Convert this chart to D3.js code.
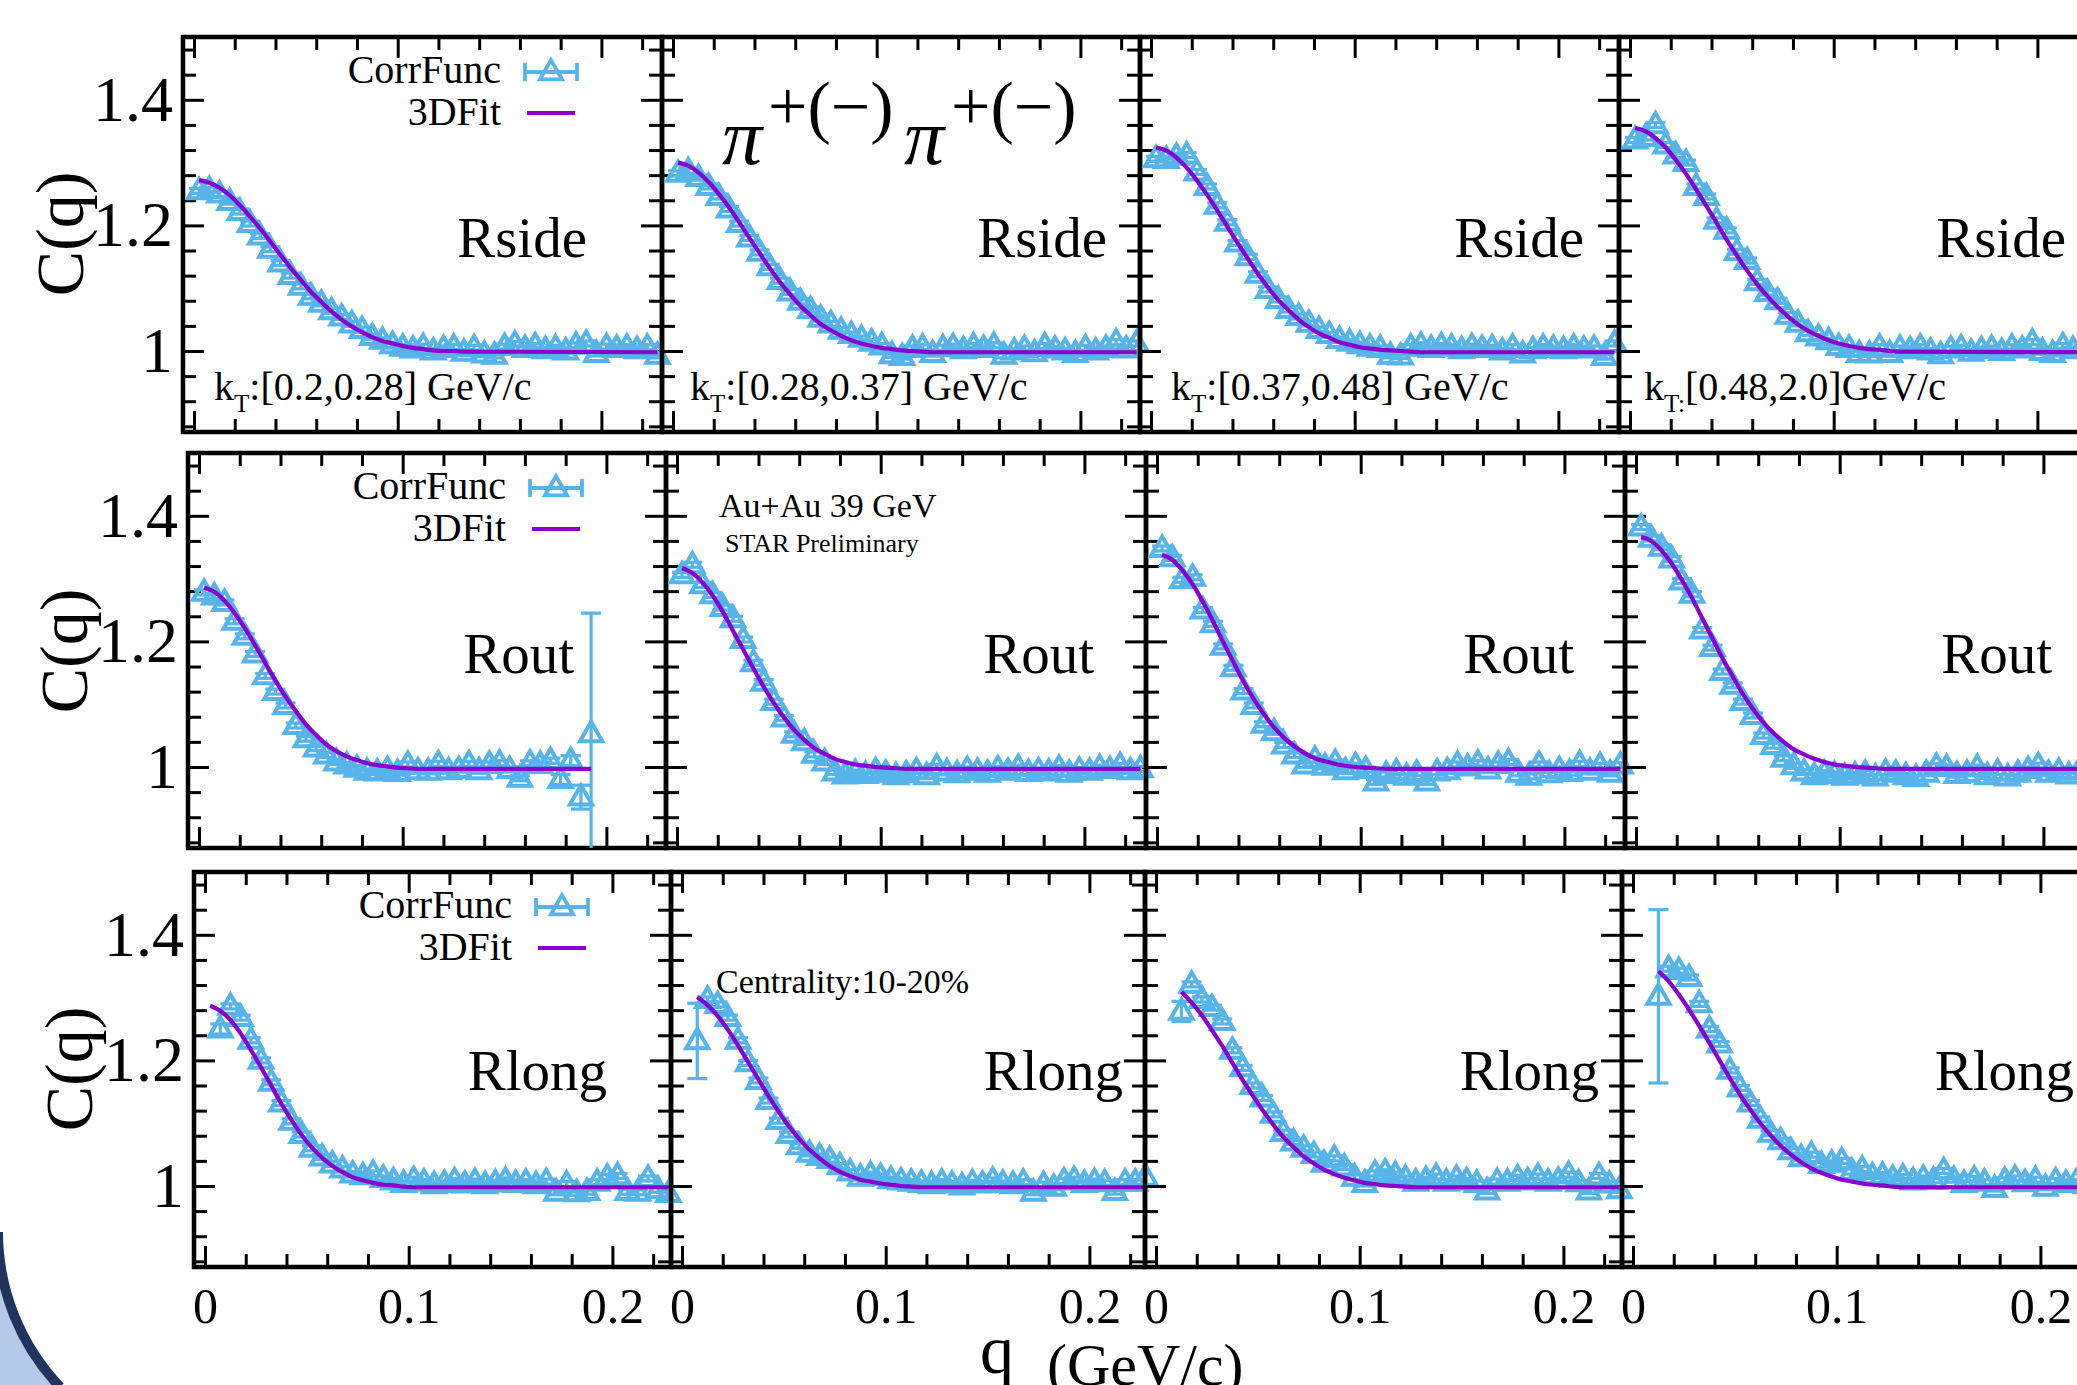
<!DOCTYPE html>
<html>
<head>
<meta charset="utf-8">
<script src="https://cdn.jsdelivr.net/npm/d3@7"></script>
<style>
  body { margin: 0; background: #fff; }
  svg { display: block; font-family: "Liberation Serif", "Times New Roman", serif; }
</style>
</head>
<body>
<div id="chart"></div>
<script>
"use strict"

// ---- data ----
const qBins = [0.0025, 0.0075, 0.0125, 0.0175, 0.0225, 0.0275, 0.0325, 0.0375, 0.0425, 0.0475,
    0.0525, 0.0575, 0.0625, 0.0675, 0.0725, 0.0775, 0.0825, 0.0875, 0.0925, 0.0975,
    0.1025, 0.1075, 0.1125, 0.1175, 0.1225, 0.1275, 0.1325, 0.1375, 0.1425, 0.1475,
    0.1525, 0.1575, 0.1625, 0.1675, 0.1725, 0.1775, 0.1825, 0.1875, 0.1925, 0.1975,
    0.2025, 0.2075, 0.2125, 0.2175, 0.2225, 0.2275];

const fitQ = [0.0025, 0.0075, 0.0125, 0.0175, 0.0225, 0.0275, 0.0325, 0.0375, 0.0425, 0.0475,
    0.0525, 0.0575, 0.0625, 0.0675, 0.0725, 0.0775, 0.0825, 0.0875, 0.0925, 0.0975,
    0.1025, 0.1075, 0.1125, 0.1175, 0.1225, 0.1275, 0.1325, 0.2275];

const components = ["Rside", "Rout", "Rlong"];
const ktLabels = [["k", "T", ":[0.2,0.28] GeV/c"], ["k", "T", ":[0.28,0.37] GeV/c"],
    ["k", "T", ":[0.37,0.48] GeV/c"], ["k", "T:", "[0.48,2.0]GeV/c"]];

const yMajor = [1, 1.2, 1.4];
const yMinor = [0.88, 0.92, 0.96, 1.04, 1.08, 1.12, 1.16, 1.24, 1.28, 1.32, 1.36, 1.44, 1.48];
const xMajor = [0, 0.1, 0.2];
const xMinor = [0.02, 0.04, 0.06, 0.08, 0.12, 0.14, 0.16, 0.18, 0.22];

// Rside
const sideKt1 = [1.255,1.257,1.250,1.238,1.222,1.203,1.183,1.162,1.140,1.120,1.103,1.087,1.076,1.064,1.054,1.043,1.034,1.023,1.017,1.010,1.006,1.003,1.007,1.000,1.004,1.006,0.998,1.005,0.995,0.993,1.007,1.011,1.004,1.008,1.002,1.005,1.000,1.009,1.012,0.996,1.007,1.004,1.006,1.002,1.006,0.993];
const sideKt2 = [1.283,1.287,1.276,1.262,1.246,1.226,1.203,1.180,1.157,1.134,1.112,1.094,1.079,1.066,1.052,1.043,1.033,1.026,1.020,1.014,1.008,0.994,0.991,1.004,1.006,0.996,1.005,1.007,1.002,1.008,1.004,1.009,0.993,1.000,1.004,0.997,1.008,1.003,1.000,0.996,1.005,1.000,1.004,1.014,1.003,1.012];
const sideKt3 = [1.306,1.305,1.310,1.312,1.285,1.262,1.232,1.205,1.172,1.150,1.122,1.098,1.082,1.066,1.055,1.044,1.034,1.026,1.018,1.014,1.010,1.006,1.004,0.993,0.992,1.006,1.009,1.004,1.008,1.006,1.002,1.007,1.004,1.005,1.000,1.006,0.995,1.002,1.006,1.004,1.002,1.006,1.003,1.004,0.991,1.012];
const sideKt4 = [1.336,1.340,1.360,1.328,1.312,1.300,1.262,1.246,1.208,1.192,1.158,1.144,1.110,1.093,1.080,1.057,1.044,1.029,1.022,1.016,1.007,1.004,0.996,0.995,1.006,0.996,1.004,1.002,1.006,1.000,0.994,1.003,1.005,0.998,1.002,1.004,0.999,1.006,1.003,1.014,0.999,0.996,1.008,1.002,1.010,1.004];
// Rout
const outKt1 = [1.278,1.272,1.262,1.232,1.208,1.180,1.145,1.120,1.098,1.066,1.045,1.030,1.019,1.008,1.003,0.998,0.993,0.992,0.996,0.991,1.004,0.994,0.993,1.005,0.994,0.996,1.005,0.994,1.004,1.006,0.996,0.982,1.006,1.004,1.010,0.980,1.010,0.952,1.053];
const outKt2 = [1.306,1.322,1.290,1.274,1.254,1.236,1.203,1.166,1.135,1.104,1.078,1.052,1.040,1.020,1.008,0.992,0.987,0.991,0.988,0.994,0.990,0.986,0.989,0.994,0.986,1.000,0.992,0.989,0.996,0.993,0.990,0.997,0.993,0.999,0.991,0.994,0.992,0.998,0.990,0.995,0.993,0.999,0.996,1.002,0.994,0.997];
const outKt3 = [1.348,1.333,1.298,1.302,1.250,1.228,1.192,1.158,1.121,1.098,1.068,1.056,1.035,1.019,1.003,1.012,1.001,1.007,0.994,1.002,0.996,0.976,0.988,0.992,0.985,0.990,0.976,0.992,0.994,1.004,1.000,1.006,0.995,1.004,1.008,0.990,0.985,1.004,0.989,0.996,0.991,1.005,0.993,1.002,0.990,1.003];
const outKt4 = [1.382,1.364,1.350,1.331,1.296,1.275,1.218,1.190,1.152,1.130,1.104,1.082,1.050,1.034,1.014,1.002,0.992,0.986,0.990,0.988,0.985,0.987,0.990,0.984,0.992,0.990,0.986,0.983,0.990,1.001,0.999,0.988,0.990,0.999,0.986,0.992,0.984,0.990,0.996,1.002,0.990,0.993,0.987,0.994,0.991,0.995];
// Rlong
const longKt1 = [null,1.250,1.286,1.268,1.232,1.200,1.165,1.132,1.103,1.082,1.060,1.046,1.035,1.027,1.019,1.016,1.020,1.012,1.008,1.004,1.010,1.006,1.002,1.004,1.008,1.003,1.007,1.002,1.005,1.009,1.004,1.006,1.002,1.007,0.990,1.003,0.989,0.991,1.006,1.014,1.016,0.991,0.990,1.012,0.994,0.988];
const longKt2 = [null,1.231,1.297,1.289,1.268,1.232,1.196,1.168,1.136,1.104,1.082,1.064,1.052,1.047,1.042,1.032,1.022,1.014,1.018,1.015,1.010,1.008,1.006,1.004,1.002,1.006,1.003,1.000,1.005,1.003,1.009,1.004,1.002,1.006,0.990,1.002,0.998,1.008,1.010,1.004,1.007,1.005,0.991,1.006,1.006,1.014];
const longKt3 = [null,null,1.278,1.321,1.297,1.284,1.262,1.216,1.188,1.160,1.140,1.114,1.085,1.070,1.060,1.050,1.036,1.044,1.030,1.014,1.004,1.020,1.022,1.018,1.012,1.006,1.010,1.015,1.006,1.012,1.008,1.004,0.992,1.007,1.006,1.013,1.008,1.015,1.006,1.009,1.018,1.005,0.992,1.016,1.003,0.994];
const longKt4 = [null,null,1.302,1.346,1.343,1.332,1.290,1.250,1.226,1.184,1.156,1.132,1.106,1.084,1.072,1.056,1.045,1.050,1.034,1.036,1.040,1.023,1.027,1.016,1.017,1.012,1.014,1.008,1.012,1.009,1.024,1.010,1.004,1.011,1.006,0.996,1.009,1.012,1.005,1.010,0.998,1.008,1.004,1.006,1.002,1.004];

// 3D fit curves, sampled at fitQ
const sideFit1 = [1.272,1.268,1.260,1.248,1.232,1.214,1.195,1.174,1.153,1.132,1.113,1.094,1.078,1.063,1.050,1.039,1.030,1.022,1.016,1.012,1.008,1.005,1.003,1.001,1.000,1.000,0.999,0.998];
const sideFit2 = [1.300,1.295,1.284,1.269,1.250,1.229,1.205,1.180,1.156,1.132,1.110,1.090,1.072,1.057,1.043,1.033,1.024,1.017,1.012,1.008,1.005,1.003,1.001,1.000,0.999,0.998,0.998,0.998];
const sideFit3 = [1.324,1.319,1.308,1.292,1.272,1.249,1.224,1.198,1.172,1.147,1.123,1.101,1.081,1.065,1.050,1.038,1.028,1.021,1.014,1.010,1.006,1.004,1.002,1.001,1.000,0.999,0.998,0.998];
const sideFit4 = [1.355,1.350,1.339,1.324,1.304,1.282,1.257,1.231,1.204,1.177,1.152,1.128,1.106,1.087,1.070,1.055,1.042,1.032,1.024,1.017,1.012,1.008,1.005,1.003,1.002,1.000,0.999,0.998];
const outFit1 = [1.286,1.279,1.265,1.245,1.221,1.194,1.166,1.138,1.112,1.089,1.068,1.051,1.036,1.025,1.017,1.011,1.006,1.003,1.001,0.999,0.998,0.997,0.997,0.997,0.997,0.997,0.997,0.997];
const outFit2 = [1.317,1.309,1.294,1.273,1.247,1.217,1.187,1.157,1.128,1.102,1.079,1.059,1.043,1.030,1.021,1.013,1.008,1.004,1.002,1.000,0.999,0.998,0.997,0.997,0.997,0.997,0.997,0.997];
const outFit3 = [1.338,1.330,1.313,1.291,1.263,1.232,1.199,1.167,1.136,1.108,1.084,1.063,1.046,1.033,1.022,1.014,1.009,1.005,1.002,1.000,0.999,0.998,0.997,0.997,0.997,0.997,0.997,0.997];
const outFit4 = [1.366,1.360,1.345,1.324,1.298,1.269,1.237,1.205,1.173,1.144,1.116,1.092,1.071,1.054,1.040,1.028,1.020,1.013,1.008,1.004,1.002,1.000,0.999,0.998,0.997,0.997,0.997,0.997];
const longFit1 = [1.287,1.279,1.264,1.243,1.217,1.189,1.160,1.131,1.105,1.081,1.061,1.045,1.032,1.022,1.014,1.009,1.005,1.002,1.001,0.999,0.998,0.998,0.998,0.998,0.998,0.998,0.998,0.998];
const longFit2 = [null,1.301,1.288,1.271,1.249,1.224,1.197,1.170,1.143,1.118,1.095,1.075,1.058,1.044,1.032,1.023,1.016,1.010,1.007,1.004,1.002,1.000,0.999,0.998,0.998,0.998,0.998,0.998];
const longFit3 = [null,null,1.309,1.292,1.272,1.248,1.223,1.196,1.169,1.144,1.120,1.098,1.078,1.062,1.047,1.036,1.026,1.019,1.013,1.009,1.005,1.003,1.001,1.000,0.999,0.998,0.998,0.998];
const longFit4 = [null,null,1.342,1.326,1.305,1.281,1.255,1.228,1.200,1.172,1.146,1.122,1.100,1.081,1.064,1.050,1.038,1.028,1.021,1.015,1.010,1.007,1.004,1.002,1.001,0.999,0.998,0.998];

// points whose error bar is visible: [bin index, error]
const outKt1Err = [[35, 0.008], [36, 0.008], [37, 0.019], [38, 0.192]];
const longKt1Err = [[1, 0.008]];
const longKt2Err = [[1, 0.06]];
const longKt3Err = [[2, 0.016]];
const longKt4Err = [[2, 0.138]];
const defaultErr = 0.004;

const corr = [[sideKt1, sideKt2, sideKt3, sideKt4], [outKt1, outKt2, outKt3, outKt4], [longKt1, longKt2, longKt3, longKt4]];
const fits = [[sideFit1, sideFit2, sideFit3, sideFit4], [outFit1, outFit2, outFit3, outFit4], [longFit1, longFit2, longFit3, longFit4]];
const errs = [[[], [], [], []], [outKt1Err, [], [], []], [longKt1Err, longKt2Err, longKt3Err, longKt4Err]];

// ---- layout ----
const width = 2077, height = 1385;
const rowTop = [37, 453, 872];
const panelH = 395;
const panelLeft = [[183, 662, 1140, 1619], [188, 666, 1146, 1625], [194, 671, 1145, 1622]];
const lastW = 479;
const pxPerGeV = 2037;
const zeroOffset = 11;
const yDomain = [0.871, 1.5];
const labelRight = [[404, 445, 444, 447], [386, 428, 428, 427], [413, 452, 454, 452]];
const labelBase = [220, 220, 218];
const ktX = [31, 28, 31, 25];

const blue = "#56b4e9", purple = "#8a00d0";
const markSize = 215;

const svg = d3.select("#chart").append("svg")
    .attr("width", width)
    .attr("height", height)
    .attr("font-family", "Liberation Serif, Times New Roman, serif");

svg.append("rect").attr("width", width).attr("height", height).attr("fill", "#fff");

// decoration at bottom-left corner of the slide
svg.append("path")
    .attr("d", "M0,1232 A225,225 0 0 0 60,1385 L0,1385 Z")
    .attr("fill", "#b7c9e9");
svg.append("path")
    .attr("d", "M-2,1232 A225,225 0 0 0 60,1387")
    .attr("fill", "none")
    .attr("stroke", "#1f355f")
    .attr("stroke-width", 10);

function styleAxis(g) {
    g.attr("font-size", null).attr("font-family", null);
    g.select(".domain").remove();
    g.selectAll("line").attr("stroke", "#000").attr("stroke-width", 3);
    g.selectAll("text").attr("fill", "#000");
}

function drawPanel(r, c) {
    const left = panelLeft[r][c];
    const w = c < 3 ? panelLeft[r][c + 1] - left : lastW;
    const top = rowTop[r];
    const bottom = top + panelH;

    const x = d3.scaleLinear()
        .domain([-zeroOffset / pxPerGeV, (w - zeroOffset) / pxPerGeV])
        .range([left, left + w]);
    const y = d3.scaleLinear()
        .domain(yDomain)
        .range([bottom, top]);

    const g = svg.append("g").attr("class", "panel");

    const clipId = "clip-" + r + "-" + c;
    g.append("clipPath").attr("id", clipId)
        .append("rect")
        .attr("x", left).attr("y", top)
        .attr("width", w).attr("height", panelH);

    // ticks on all four sides, pointing inward
    const yFmt = d => d === 1 ? "1" : d3.format(".1f")(d);
    const xFmt = d => d === 0 ? "0" : d3.format(".1f")(d);

    g.append("g").attr("transform", "translate(" + left + ",0)")
        .call(d3.axisLeft(y).tickValues(yMinor).tickSize(-13).tickFormat(""))
        .call(styleAxis);
    g.append("g").attr("transform", "translate(" + left + ",0)")
        .call(d3.axisLeft(y).tickValues(yMajor).tickSize(-21).tickPadding(10)
            .tickFormat(c === 0 ? yFmt : ""))
        .call(styleAxis)
        .selectAll("text").attr("font-size", 64);
    g.append("g").attr("transform", "translate(" + (left + w) + ",0)")
        .call(d3.axisRight(y).tickValues(yMinor).tickSize(-13).tickFormat(""))
        .call(styleAxis);
    g.append("g").attr("transform", "translate(" + (left + w) + ",0)")
        .call(d3.axisRight(y).tickValues(yMajor).tickSize(-21).tickFormat(""))
        .call(styleAxis);

    g.append("g").attr("transform", "translate(0," + top + ")")
        .call(d3.axisTop(x).tickValues(xMinor).tickSize(-13).tickFormat(""))
        .call(styleAxis);
    g.append("g").attr("transform", "translate(0," + top + ")")
        .call(d3.axisTop(x).tickValues(xMajor).tickSize(-21).tickFormat(""))
        .call(styleAxis);
    g.append("g").attr("transform", "translate(0," + bottom + ")")
        .call(d3.axisBottom(x).tickValues(xMinor).tickSize(-13).tickFormat(""))
        .call(styleAxis);
    g.append("g").attr("transform", "translate(0," + bottom + ")")
        .call(d3.axisBottom(x).tickValues(xMajor).tickSize(-21).tickPadding(20)
            .tickFormat(r === 2 ? xFmt : ""))
        .call(styleAxis)
        .selectAll("text").attr("font-size", 50);

    g.append("rect")
        .attr("x", left).attr("y", top)
        .attr("width", w).attr("height", panelH)
        .attr("fill", "none")
        .attr("stroke", "#000")
        .attr("stroke-width", 4.5);

    // correlation function points
    const values = corr[r][c];
    const pts = [];
    values.forEach((v, i) => {
        if (v !== null) pts.push({ q: qBins[i], v: v, e: defaultErr, i: i });
    });
    errs[r][c].forEach(([i, e]) => {
        const p = pts.find(d => d.i === i);
        if (p) p.e = e;
    });

    const eb = g.append("g")
        .attr("clip-path", "url(#" + clipId + ")")
        .attr("stroke", blue)
        .attr("stroke-width", 3.2);
    eb.selectAll("line.bar").data(pts).join("line")
        .attr("class", "bar")
        .attr("x1", d => x(d.q)).attr("x2", d => x(d.q))
        .attr("y1", d => y(d.v - d.e)).attr("y2", d => y(d.v + d.e));
    eb.selectAll("line.capt").data(pts).join("line")
        .attr("class", "capt")
        .attr("x1", d => x(d.q) - 10).attr("x2", d => x(d.q) + 10)
        .attr("y1", d => y(d.v + d.e)).attr("y2", d => y(d.v + d.e));
    eb.selectAll("line.capb").data(pts).join("line")
        .attr("class", "capb")
        .attr("x1", d => x(d.q) - 10).attr("x2", d => x(d.q) + 10)
        .attr("y1", d => y(d.v - d.e)).attr("y2", d => y(d.v - d.e));

    const tri = d3.symbol().type(d3.symbolTriangle).size(markSize);
    g.append("g").selectAll("path").data(pts).join("path")
        .attr("d", tri)
        .attr("transform", d => "translate(" + x(d.q) + "," + (y(d.v) + 1) + ")")
        .attr("fill", "none")
        .attr("stroke", blue)
        .attr("stroke-width", 4);

    // fit curve
    const fv = fits[r][c];
    const qEnd = qBins[values.length - 1];
    const fitPts = [];
    fv.forEach((v, i) => {
        if (v === null) return;
        const q = i === fv.length - 1 ? qEnd : fitQ[i];
        if (q <= qEnd) fitPts.push([q, v]);
    });
    const line = d3.line()
        .x(d => x(d[0]))
        .y(d => y(d[1]))
        .curve(d3.curveMonotoneX);
    g.append("path")
        .attr("d", line(fitPts))
        .attr("fill", "none")
        .attr("stroke", purple)
        .attr("stroke-width", 4.2);

    // component label
    g.append("text")
        .attr("x", left + labelRight[r][c])
        .attr("y", top + labelBase[r])
        .attr("text-anchor", "end")
        .attr("font-size", 57)
        .text(components[r]);

    if (c === 0) drawLegend(g, left, top);

    if (r === 0) {
        const kt = ktLabels[c];
        const t = g.append("text")
            .attr("x", left + ktX[c])
            .attr("y", top + 363)
            .attr("font-size", 40);
        t.append("tspan").text(kt[0]);
        t.append("tspan").attr("font-size", 25).attr("dy", 12).text(kt[1]);
        t.append("tspan").attr("dy", -12).text(kt[2]);
    }
}

function drawLegend(g, left, top) {
    g.append("text")
        .attr("x", left + 318).attr("y", top + 46)
        .attr("text-anchor", "end").attr("font-size", 40)
        .text("CorrFunc");
    g.append("text")
        .attr("x", left + 318).attr("y", top + 88)
        .attr("text-anchor", "end").attr("font-size", 40)
        .text("3DFit");
    const cx = left + 368, cy = top + 35;
    const lg = g.append("g").attr("stroke", blue).attr("stroke-width", 3.8).attr("fill", "none");
    lg.append("line").attr("x1", cx - 26).attr("x2", cx + 26).attr("y1", cy).attr("y2", cy);
    lg.append("line").attr("x1", cx - 26).attr("x2", cx - 26).attr("y1", cy - 9).attr("y2", cy + 9);
    lg.append("line").attr("x1", cx + 26).attr("x2", cx + 26).attr("y1", cy - 9).attr("y2", cy + 9);
    lg.append("path")
        .attr("d", d3.symbol().type(d3.symbolTriangle).size(markSize)())
        .attr("transform", "translate(" + cx + "," + (cy + 1) + ")");
    g.append("line")
        .attr("x1", cx - 24).attr("x2", cx + 24)
        .attr("y1", top + 76).attr("y2", top + 76)
        .attr("stroke", purple).attr("stroke-width", 4.2);
}

for (let r = 0; r < 3; r++) {
    for (let c = 0; c < 4; c++) drawPanel(r, c);
}

// y-axis titles
const yTitle = [[83, 234], [87, 651], [92, 1069]];
yTitle.forEach(([tx, ty]) => {
    svg.append("text")
        .attr("transform", "translate(" + tx + "," + ty + ") rotate(-90)")
        .attr("text-anchor", "middle")
        .attr("font-size", 68)
        .text("C(q)");
});

// x-axis title
svg.append("text").attr("x", 980).attr("y", 1373).attr("font-size", 68).text("q");
svg.append("text").attr("x", 1047).attr("y", 1385).attr("font-size", 60).text("(GeV/c)");

// pair label
const pair = svg.append("text").attr("font-size", 70);
pair.append("tspan").attr("x", 722).attr("y", 164).attr("font-style", "italic").attr("font-size", 80).text("\u03c0");
pair.append("tspan").attr("x", 768).attr("y", 130).text("+(\u2212)");
pair.append("tspan").attr("x", 904).attr("y", 164).attr("font-style", "italic").attr("font-size", 80).text("\u03c0");
pair.append("tspan").attr("x", 951).attr("y", 130).text("+(\u2212)");

// annotations
svg.append("text").attr("x", 719).attr("y", 517).attr("font-size", 34).text("Au+Au 39 GeV");
svg.append("text").attr("x", 725).attr("y", 552).attr("font-size", 26).text("STAR Preliminary");
svg.append("text").attr("x", 716).attr("y", 993).attr("font-size", 34).text("Centrality:10-20%");
</script>
</body>
</html>
